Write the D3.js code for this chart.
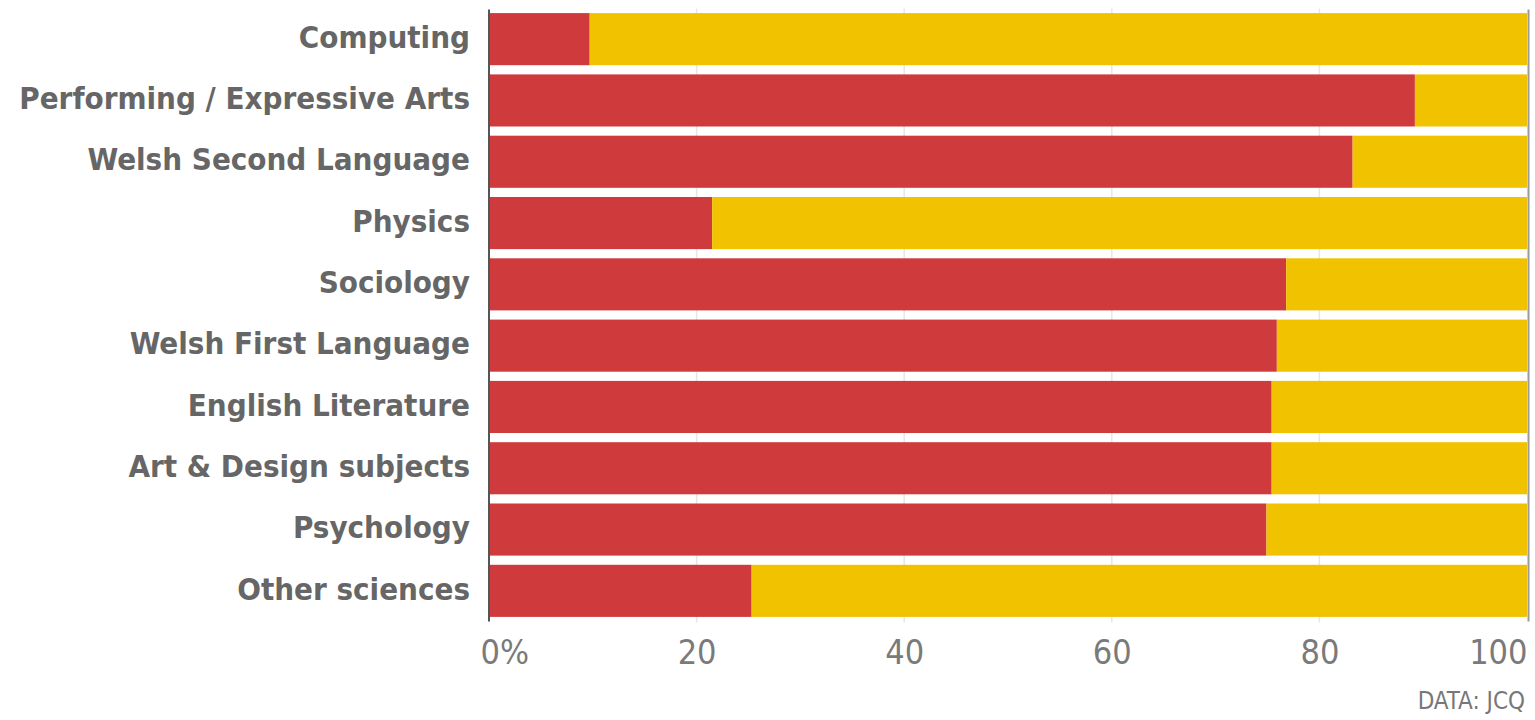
<!DOCTYPE html>
<html>
<head>
<meta charset="utf-8">
<script src="https://cdn.jsdelivr.net/npm/d3@7"></script>
<style>
  html, body { margin: 0; padding: 0; background: #fff; }
  svg { display: block; }
</style>
</head>
<body>
<div id="chart"></div>
<script>
const categories = [
  "Computing",
  "Performing / Expressive Arts",
  "Welsh Second Language",
  "Physics",
  "Sociology",
  "Welsh First Language",
  "English Literature",
  "Art & Design subjects",
  "Psychology",
  "Other sciences"
];
const redValues = [9.7, 89.2, 83.2, 21.5, 76.8, 75.9, 75.4, 75.4, 74.9, 25.3];
const yellowValues = redValues.map(v => 100 - v);
const tickValues = [0, 20, 40, 60, 80, 100];
const tickLabels = ["0%", "20", "40", "60", "80", "100"];
const sourceText = "DATA: JCQ";

const W = 1535, H = 720;
const x0 = 489, x1 = 1527, yTop = 8.5, yBot = 621.5;

const svg = d3.select("#chart").append("svg").attr("width", W).attr("height", H);

const x = d3.scaleLinear().domain([0, 100]).range([x0, x1]);
const y = d3.scaleBand().domain(categories).range([yTop, yBot]).paddingInner(0.15).paddingOuter(0.075);

const fontCond = "'DejaVu Sans Condensed', 'DejaVu Sans', sans-serif";

// gridlines
svg.append("g").selectAll("line").data([20, 40, 60, 80]).join("line")
  .attr("x1", d => x(d)).attr("x2", d => x(d))
  .attr("y1", yTop).attr("y2", yBot + 1)
  .attr("stroke", "#e6e6e6").attr("stroke-width", 1.5);

// bars
const rows = categories.map((c, i) => ({ c, r: redValues[i], yv: yellowValues[i] }));
const barG = svg.append("g");
barG.selectAll("rect.red").data(rows).join("rect").attr("class", "red")
  .attr("x", x(0)).attr("y", d => y(d.c))
  .attr("width", d => x(d.r) - x(0)).attr("height", y.bandwidth())
  .attr("fill", "#cf3a3c");
barG.selectAll("rect.yellow").data(rows).join("rect").attr("class", "yellow")
  .attr("x", d => x(d.r)).attr("y", d => y(d.c))
  .attr("width", d => x(d.r + d.yv) - x(d.r)).attr("height", y.bandwidth())
  .attr("fill", "#f1c200");

// left axis line
svg.append("line").attr("x1", x0).attr("x2", x0).attr("y1", yTop + 1).attr("y2", yBot)
  .attr("stroke", "#555").attr("stroke-width", 2);
// right line
svg.append("line").attr("x1", x1 + 1.5).attr("x2", x1 + 1.5).attr("y1", yTop + 1).attr("y2", yBot)
  .attr("stroke", "#9a9a9a").attr("stroke-width", 2);

// category labels
const yAxis = d3.axisLeft(y).tickSize(0).tickPadding(0);
const yg = svg.append("g").attr("transform", `translate(${x0 - 19},0)`).call(yAxis);
yg.select(".domain").remove();
yg.selectAll("text")
  .attr("font-family", fontCond).attr("font-weight", "bold")
  .attr("font-size", 31).attr("fill", "#666").attr("dy", "0.28em");

// x axis
const xAxis = d3.axisBottom(x).tickValues(tickValues).tickSize(0)
  .tickFormat((d, i) => tickLabels[i]);
const xg = svg.append("g").attr("transform", `translate(0,${yBot})`).call(xAxis);
xg.select(".domain").remove();
xg.selectAll("text")
  .attr("font-family", fontCond).attr("font-size", 34).attr("fill", "#7a7a7a")
  .attr("y", 42).attr("dy", 0);
xg.selectAll(".tick").filter(d => d === 0).select("text").attr("text-anchor", "start").attr("x", -9);
xg.selectAll(".tick").filter(d => d === 100).select("text").attr("text-anchor", "end").attr("x", 0);

// source
svg.append("text").attr("x", 1525).attr("y", 709).attr("text-anchor", "end")
  .attr("font-family", fontCond).attr("font-size", 24).attr("fill", "#777")
  .text(sourceText);
</script>
</body>
</html>
